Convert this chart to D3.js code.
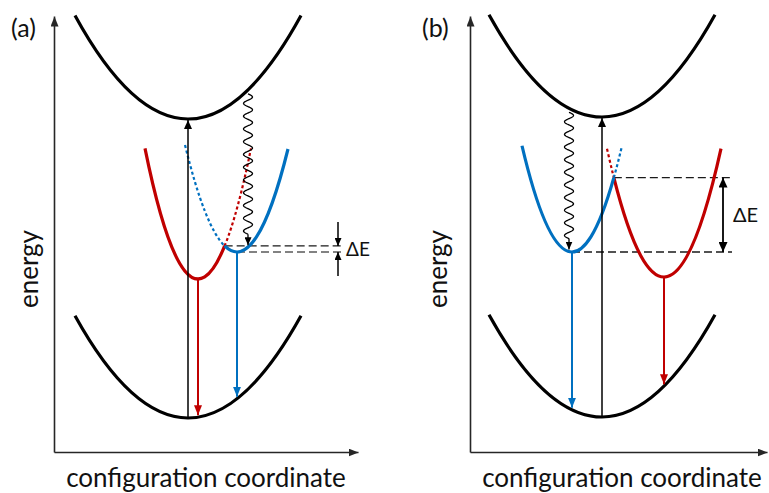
<!DOCTYPE html>
<html lang="en">
<head>
<meta charset="UTF-8">
<title>Configuration coordinate diagram</title>
<script src="https://cdn.jsdelivr.net/npm/d3@7"></script>
<style>
  html, body { margin: 0; padding: 0; background: #fff; }
  svg { display: block; font-family: Lato, "Noto Sans", sans-serif; }
</style>
</head>
<body>
<svg id="chart" width="769" height="493"></svg>
<script>
// ========================================================================
// Data (configuration coordinate q and energy E, arbitrary units)
// ========================================================================
const PANEL_LABELS = ["(a)", "(b)"];
const X_LABEL = "configuration coordinate";
const Y_LABEL = "energy";
const DELTA_LABEL = "\u0394E";

// axis lengths per panel: [q length, E length]
const AXIS_LENGTH = [[304, 436], [297, 436]];

// parabolas per panel: [centre q, minimum E, curvature, left end q, right end q]
const GROUND  = [[134,  34, 0.0080, 21, 247], [132,  35, 0.0080, 19, 245]];
const EXCITED = [[134, 333, 0.0081, 21, 247], [132, 335, 0.0080, 19, 245]];
const RED     = [[144, 173, 0.0465, 91, 197], [194, 175, 0.0395, 137, 251]];
const BLUE    = [[183, 200, 0.0396, 131, 234], [102, 200, 0.0425, 52, 152]];

// non-radiative relaxation (wavy arrow) position q per panel
const WAVE_Q = [194, 99];
// position q of the ΔE marker and the end of the dashed guides
const DELTA_Q = [284, 253];
const GUIDE_END_Q = [289, 262];

// ========================================================================
// Layout (pixels)
// ========================================================================
const LAYOUT = [
    { x0: 54,  labelX: 11,  yLabelX: 38,  xLabelX: 206, deltaSize: 19 },
    { x0: 470, labelX: 422, yLabelX: 447, xLabelX: 622, deltaSize: 20 }
];
const Y_BASE = 452;
const COLORS = { black: "#000", red: "#C00000", blue: "#0070C0", axis: "#262626" };

const svg = d3.select("#chart");

// ========================================================================
// Helpers
// ========================================================================
const parabola = ([c, e0, k]) => (q) => e0 + k * (q - c) * (q - c);

// exact parabola piece as a quadratic Bezier between q = a and q = b
const parabolaPath = ([c, e0, k], a, b, x, y) => {
    const f = parabola([c, e0, k]);
    const p = d3.path();
    p.moveTo(x(a), y(f(a)));
    p.quadraticCurveTo(x((a + b) / 2), y(e0 + k * (a - c) * (b - c)), x(b), y(f(b)));
    return p.toString();
};

// crossing of two parabolas, root lying between their centres
const crossing = ([c1, e1, k1], [c2, e2, k2]) => {
    const A = k1 - k2;
    const B = -2 * (k1 * c1 - k2 * c2);
    const C = k1 * c1 * c1 - k2 * c2 * c2 + e1 - e2;
    const lo = Math.min(c1, c2), hi = Math.max(c1, c2);
    let roots;
    if (Math.abs(A) < 1e-9) roots = [-C / B];
    else {
        const d = Math.sqrt(B * B - 4 * A * C);
        roots = [(-B + d) / (2 * A), (-B - d) / (2 * A)];
    }
    const q = roots.find(r => r >= lo && r <= hi);
    return [q, parabola([c1, e1, k1])(q)];
};

// ========================================================================
// Arrowhead markers
// ========================================================================
const defs = svg.append("defs");
const addMarker = (id, color, length, width) => {
    defs.append("marker")
        .attr("id", id)
        .attr("viewBox", "0 0 10 10")
        .attr("refX", 10).attr("refY", 5)
        .attr("markerUnits", "userSpaceOnUse")
        .attr("markerWidth", length).attr("markerHeight", width)
        .attr("preserveAspectRatio", "none")
        .attr("orient", "auto-start-reverse")
        .append("path")
        .attr("d", "M0,0L10,5L0,10Z")
        .attr("fill", color);
};
addMarker("head-axis", COLORS.axis, 10, 8);
addMarker("head-black", COLORS.black, 9, 8);
addMarker("head-red", COLORS.red, 10, 8);
addMarker("head-blue", COLORS.blue, 10, 8);
addMarker("head-small", COLORS.black, 8, 7);
addMarker("head-delta", COLORS.black, 10, 9);

// ========================================================================
// Panels
// ========================================================================
const drawPanel = (i) => {
    const L = LAYOUT[i];
    const [qLen, eLen] = AXIS_LENGTH[i];
    const x = d3.scaleLinear().domain([0, qLen]).range([L.x0, L.x0 + qLen]);
    const y = d3.scaleLinear().domain([0, eLen]).range([Y_BASE, Y_BASE - eLen]);
    const g = svg.append("g");

    const ground = GROUND[i], excited = EXCITED[i], red = RED[i], blue = BLUE[i];
    const fGround = parabola(ground), fExcited = parabola(excited), fBlue = parabola(blue);
    const [qx, ex] = crossing(red, blue);

    // axes without ticks, arrow at the end
    const xAxis = g.append("g").attr("transform", `translate(0,${Y_BASE})`)
        .call(d3.axisBottom(x).tickValues([]).tickSizeOuter(0));
    const yAxis = g.append("g").attr("transform", `translate(${L.x0},0)`)
        .call(d3.axisLeft(y).tickValues([]).tickSizeOuter(0));
    [xAxis, yAxis].forEach(a => a.select(".domain")
        .attr("stroke", COLORS.axis).attr("stroke-width", 1.6)
        .attr("marker-end", "url(#head-axis)"));

    // dashed guides for ΔE
    const guide = (q0, e, color) => g.append("line")
        .attr("x1", x(q0)).attr("x2", x(GUIDE_END_Q[i]))
        .attr("y1", y(e)).attr("y2", y(e))
        .attr("stroke", color).attr("stroke-width", 1.3)
        .attr("stroke-dasharray", "8 4");
    guide(qx, ex, "#1a1a1a");
    guide(blue[0], blue[1], i === 0 ? "#595959" : "#1a1a1a");

    // ground and excited state parabolas
    [ground, excited].forEach(p => g.append("path")
        .attr("d", parabolaPath(p, p[3], p[4], x, y))
        .attr("fill", "none").attr("stroke", COLORS.black).attr("stroke-width", 3.2));

    // red and blue parabolas: solid below the crossing, dotted above it
    [[red, COLORS.red], [blue, COLORS.blue]].forEach(([p, color]) => {
        const leftSolid = p[0] < qx;
        const solid = leftSolid ? [p[3], qx] : [qx, p[4]];
        const dotted = leftSolid ? [qx, p[4]] : [p[3], qx];
        g.append("path")
            .attr("d", parabolaPath(p, dotted[0], dotted[1], x, y))
            .attr("fill", "none").attr("stroke", color).attr("stroke-width", 2.2)
            .attr("stroke-dasharray", "3 2.5");
        g.append("path")
            .attr("d", parabolaPath(p, solid[0], solid[1], x, y))
            .attr("fill", "none").attr("stroke", color).attr("stroke-width", 3.2)
            .attr("stroke-linejoin", "round");
    });

    // vertical transitions
    const vArrow = (q, e0, e1, color, marker, width) => g.append("line")
        .attr("x1", x(q)).attr("x2", x(q))
        .attr("y1", y(e0)).attr("y2", y(e1))
        .attr("stroke", color).attr("stroke-width", width)
        .attr("marker-end", `url(#${marker})`);
    vArrow(ground[0], ground[1], excited[1] - 1, COLORS.black, "head-black", 1.5);
    vArrow(red[0], red[1], fGround(red[0]) + 2, COLORS.red, "head-red", 2);
    vArrow(blue[0], blue[1], fGround(blue[0]) + 2, COLORS.blue, "head-blue", 2);

    // wavy arrow: relaxation from the excited state into the blue state
    const wq = WAVE_Q[i];
    const yStart = y(fExcited(wq)) + 4;
    const yTip = y(fBlue(wq)) - 2;
    const yWaveEnd = yTip - 11;
    const periods = Math.round((yWaveEnd - yStart) / 12.3);
    const wave = d3.range(0, 1.0001, 1 / 400).map(t => [
        x(wq) + 4.5 * Math.sin(2 * Math.PI * periods * t),
        yStart + t * (yWaveEnd - yStart)
    ]);
    g.append("path")
        .attr("d", d3.line()(wave))
        .attr("fill", "none").attr("stroke", COLORS.black).attr("stroke-width", 1.3);
    g.append("line")
        .attr("x1", x(wq)).attr("x2", x(wq))
        .attr("y1", yWaveEnd).attr("y2", yTip)
        .attr("stroke", COLORS.black).attr("stroke-width", 1.3)
        .attr("marker-end", "url(#head-small)");

    // ΔE marker
    const dq = DELTA_Q[i];
    if (i === 0) {
        vArrow(dq, ex + 24, ex, COLORS.black, "head-small", 1.5);
        vArrow(dq, blue[1] - 24, blue[1], COLORS.black, "head-small", 1.5);
        g.append("text")
            .attr("x", x(dq) + 8).attr("y", (y(ex) + y(blue[1])) / 2)
            .attr("dy", "0.36em")
            .attr("font-size", L.deltaSize).attr("fill", "#111")
            .text(DELTA_LABEL);
    } else {
        g.append("line")
            .attr("x1", x(dq)).attr("x2", x(dq))
            .attr("y1", y(ex)).attr("y2", y(blue[1]))
            .attr("stroke", COLORS.black).attr("stroke-width", 1.8)
            .attr("marker-start", "url(#head-delta)")
            .attr("marker-end", "url(#head-delta)");
        g.append("text")
            .attr("x", x(dq) + 10).attr("y", (y(ex) + y(blue[1])) / 2)
            .attr("dy", "0.36em")
            .attr("font-size", L.deltaSize).attr("fill", "#111")
            .text(DELTA_LABEL);
    }

    // labels
    g.append("text")
        .attr("x", L.labelX).attr("y", 37)
        .attr("font-size", 25).attr("fill", "#111")
        .text(PANEL_LABELS[i]);
    g.append("text")
        .attr("transform", `translate(${L.yLabelX},269) rotate(-90)`)
        .attr("text-anchor", "middle")
        .attr("font-size", 26).attr("fill", "#111")
        .text(Y_LABEL);
    g.append("text")
        .attr("x", L.xLabelX).attr("y", 487)
        .attr("text-anchor", "middle")
        .attr("font-size", 26).attr("fill", "#111")
        .text(X_LABEL);
};

PANEL_LABELS.forEach((_, i) => drawPanel(i));
</script>
</body>
</html>
